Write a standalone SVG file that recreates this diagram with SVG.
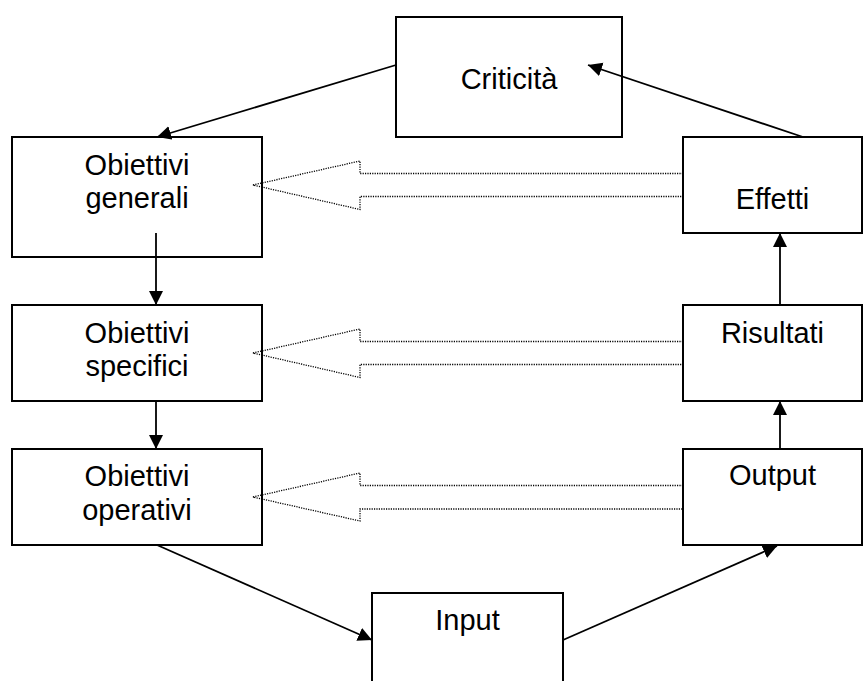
<svg xmlns="http://www.w3.org/2000/svg" width="868" height="681" viewBox="0 0 868 681">
<style>
.box{fill:#fff;stroke:#000;stroke-width:2}
.lbl{font-family:"Liberation Sans",Arial,sans-serif;font-size:29px;text-anchor:middle;fill:#000}
.conn{stroke:#000;stroke-width:1.8;fill:none;marker-end:url(#ah)}
.hollow{fill:none;stroke:#000;stroke-width:1.3;stroke-dasharray:1.2 1.2}
</style>
<defs>
<marker id="ah" markerUnits="userSpaceOnUse" markerWidth="16" markerHeight="16" refX="14" refY="7" orient="auto">
<path d="M0,0 L14,7 L0,14 Z" fill="#000"/>
</marker>
</defs>
<rect width="868" height="681" fill="#fff"/>
<g id="criticita"><rect class="box" x="396" y="17" width="226" height="120"/><text class="lbl" x="509" y="89">Criticità</text></g>
<g id="obiettivi-generali"><rect class="box" x="12" y="137" width="250" height="120"/><text class="lbl" x="137" y="175">Obiettivi</text><text class="lbl" x="137" y="207.5">generali</text></g>
<g id="obiettivi-specifici"><rect class="box" x="12" y="305" width="250" height="96"/><text class="lbl" x="137" y="343">Obiettivi</text><text class="lbl" x="137" y="375.5">specifici</text></g>
<g id="obiettivi-operativi"><rect class="box" x="12" y="449" width="250" height="96"/><text class="lbl" x="137" y="486">Obiettivi</text><text class="lbl" x="137" y="520">operativi</text></g>
<g id="effetti"><rect class="box" x="683" y="137" width="179" height="96"/><text class="lbl" x="772.5" y="209">Effetti</text></g>
<g id="risultati"><rect class="box" x="683" y="305" width="179" height="96"/><text class="lbl" x="772.5" y="342.5">Risultati</text></g>
<g id="output"><rect class="box" x="683" y="449" width="179" height="96"/><text class="lbl" x="772.5" y="485">Output</text></g>
<g id="input"><rect class="box" x="372" y="593" width="191" height="100"/><text class="lbl" x="467.5" y="630">Input</text></g>
<g id="connectors">
<line class="conn" x1="396" y1="65" x2="157" y2="137"/>
<line class="conn" x1="156" y1="233" x2="156" y2="305"/>
<line class="conn" x1="156" y1="401" x2="156" y2="449"/>
<line class="conn" x1="157" y1="545" x2="372" y2="640"/>
<line class="conn" x1="563" y1="640" x2="777" y2="546"/>
<line class="conn" x1="780" y1="449" x2="780" y2="401"/>
<line class="conn" x1="780" y1="305" x2="780" y2="233"/>
<line class="conn" x1="803" y1="137" x2="588" y2="65"/>
<path class="hollow" d="M683,173.5 L360,173.5 L360,161 L253,185 L360,209.5 L360,196.5 L683,196.5 Z"/>
<path class="hollow" d="M683,341.5 L360,341.5 L360,329 L253,353 L360,377.5 L360,364.5 L683,364.5 Z"/>
<path class="hollow" d="M683,485.5 L360,485.5 L360,473 L253,497 L360,521 L360,509 L683,509 Z"/>
</g>
</svg>
